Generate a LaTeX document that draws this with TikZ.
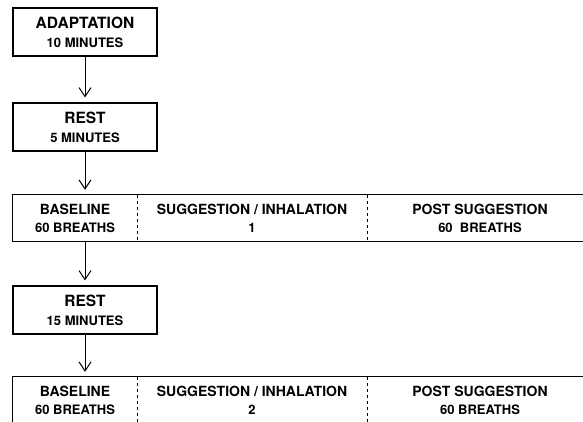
\documentclass[tikz,border=0pt]{standalone}
\usepackage{fontspec}
\setmainfont{TeX Gyre Heros}
\usetikzlibrary{arrows.meta}

\newcommand{\subline}[1]{{\fontsize{13}{19}\selectfont #1}}

\begin{document}
\begin{tikzpicture}[x=1pt, y=-1pt,
    >={Straight Barb[length=9pt,width=12pt]},
    stage/.style={draw, line width=1.1pt, minimum width=144pt, minimum height=48pt,
      inner sep=0pt, align=center, font=\bfseries\fontsize{15.5}{19}\selectfont},
    cell/.style={minimum height=46pt, inner sep=0pt, align=center,
      font=\bfseries\fontsize{14}{18}\selectfont},
    rowline/.style={line width=1.1pt},
    sep/.style={line width=0.9pt, dash pattern=on 3pt off 3pt},
    flow/.style={->, line width=1pt, shorten >=5pt}]

  \clip (0,0) rectangle (583,422);

  % ============== Stages before the first trial ==============
  \node[stage] (adapt) at (85,32) {ADAPTATION\\\subline{10 MINUTES}};
  \node[stage] (rest1) at (85,127) {REST\\\subline{5 MINUTES}};

  % ============== Trial 1 ==============
  \node[cell, minimum width=124pt] (base1) at (75,218) {BASELINE\\\subline{60 BREATHS}};
  \node[cell, minimum width=230pt] (sugg1) at (252,218) {SUGGESTION / INHALATION\\\subline{1}};
  \node[cell, minimum width=226pt] (post1) at (480,218) {POST SUGGESTION\\\subline{60\ \ BREATHS}};
  \draw[rowline] (base1.north west) rectangle (post1.south east);
  \draw[sep] (base1.north east) -- (base1.south east);
  \draw[sep] (sugg1.north east) -- (sugg1.south east);

  % Rest between trials
  \node[stage] (rest2) at (85,310) {REST\\\subline{15 MINUTES}};

  % ============== Trial 2 ==============
  \node[cell, minimum width=124pt] (base2) at (75,400) {BASELINE\\\subline{60 BREATHS}};
  \node[cell, minimum width=230pt] (sugg2) at (252,400) {SUGGESTION / INHALATION\\\subline{2}};
  \node[cell, minimum width=226pt] (post2) at (480,400) {POST SUGGESTION\\\subline{60 BREATHS}};
  \draw[rowline] (base2.north west) rectangle (post2.south east);
  \draw[sep] (base2.north east) -- (base2.south east);
  \draw[sep] (sugg2.north east) -- (sugg2.south east);

  % Arrows
  \draw[flow] (adapt) -- (rest1);
  \draw[flow] (rest1.south) -- (rest1.south |- base1.north);
  \draw[flow] (base1.south -| rest2.north) -- (rest2.north);
  \draw[flow] (rest2.south) -- (rest2.south |- base2.north);

\end{tikzpicture}
\end{document}
